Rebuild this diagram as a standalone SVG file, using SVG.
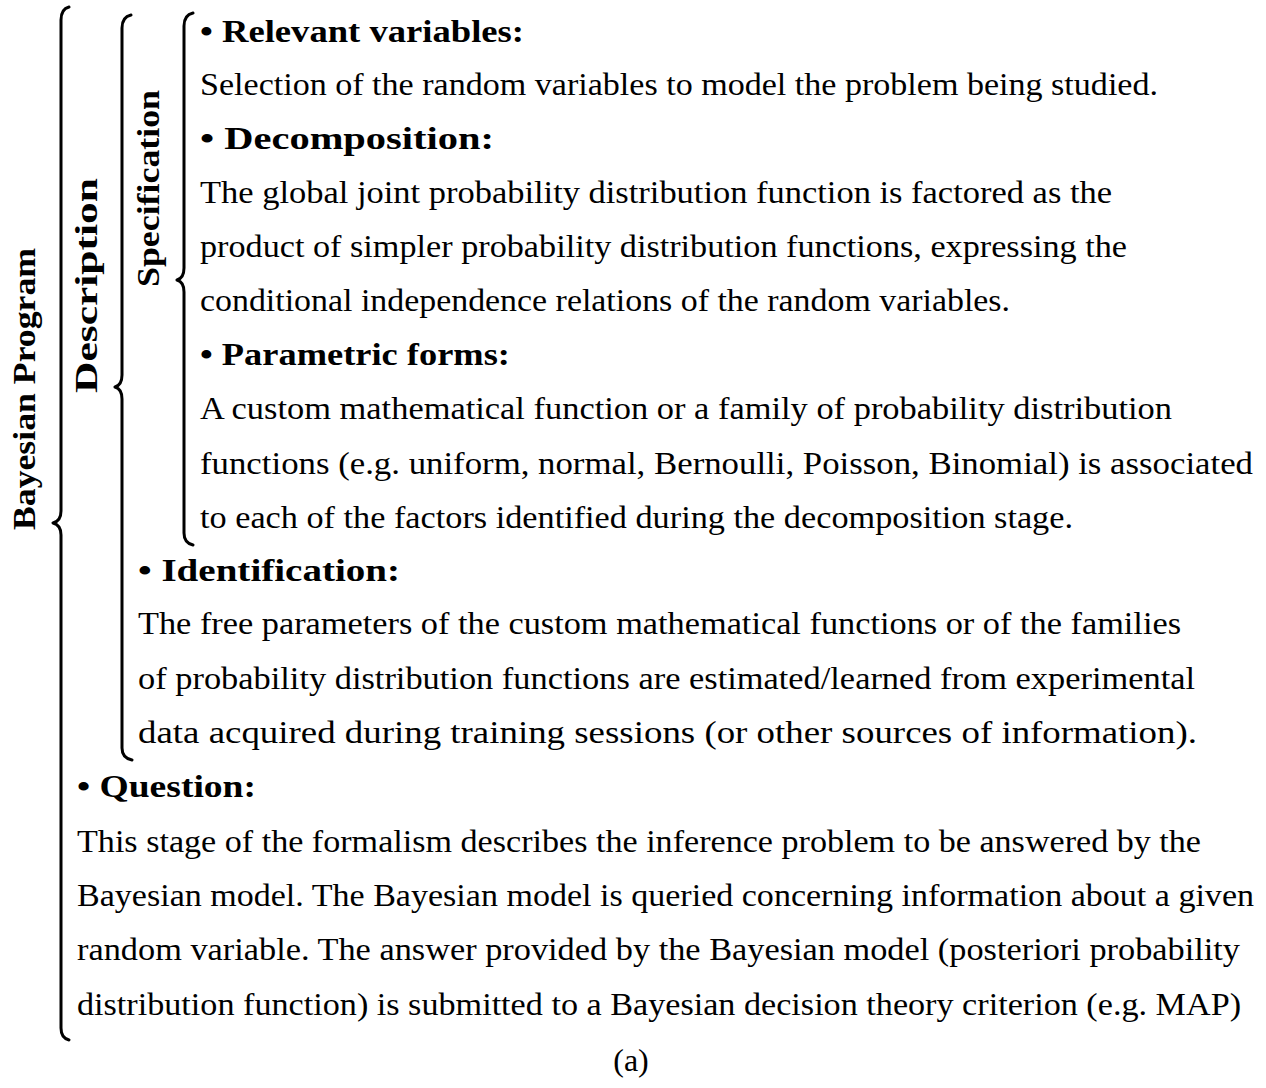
<svg xmlns="http://www.w3.org/2000/svg" width="1266" height="1088" viewBox="0 0 1266 1088">
<style>
text{font-family:"Liberation Serif","Times New Roman",serif;font-size:32px;fill:#000}
.b{font-weight:bold}
.brace{fill:none;stroke:#000;stroke-width:3;stroke-linecap:round;stroke-linejoin:round}
</style>
<rect width="1266" height="1088" fill="#fff"/>
<g id="braces">
<path class="brace" d="M69,7 Q61,9 61,20 L61,511 Q61,521 53,523 Q61,525 61,535 L61,1028 Q61,1038 69,1040"/>
<path class="brace" d="M131,15 Q122,17 122,28 L122,375 Q122,385 115,387 Q122,389 122,399 L122,748 Q122,758 132,760"/>
<path class="brace" d="M193,13 Q184,15 184,26 L184,268 Q184,278 177,280 Q184,282 184,292 L184,533 Q184,543 193,545"/>
</g>
<g id="labels">
<text class="b" transform="translate(35,530) rotate(-90)" textLength="282" lengthAdjust="spacingAndGlyphs">Bayesian Program</text>
<text class="b" transform="translate(97,393) rotate(-90)" textLength="215" lengthAdjust="spacingAndGlyphs">Description</text>
<text class="b" transform="translate(159,287) rotate(-90)" textLength="197" lengthAdjust="spacingAndGlyphs">Specification</text>
</g>
<g id="specification">
<text class="b" x="200" y="42" textLength="324" lengthAdjust="spacingAndGlyphs">• Relevant variables:</text>
<text x="200" y="95" textLength="958" lengthAdjust="spacingAndGlyphs">Selection of the random variables to model the problem being studied.</text>
<text class="b" x="200" y="149" textLength="294" lengthAdjust="spacingAndGlyphs">• Decomposition:</text>
<text x="200" y="203" textLength="912" lengthAdjust="spacingAndGlyphs">The global joint probability distribution function is factored as the</text>
<text x="200" y="257" textLength="927" lengthAdjust="spacingAndGlyphs">product of simpler probability distribution functions, expressing the</text>
<text x="200" y="311" textLength="810" lengthAdjust="spacingAndGlyphs">conditional independence relations of the random variables.</text>
<text class="b" x="200" y="365" textLength="310" lengthAdjust="spacingAndGlyphs">• Parametric forms:</text>
<text x="200" y="419" textLength="972" lengthAdjust="spacingAndGlyphs">A custom mathematical function or a family of probability distribution</text>
<text x="200" y="474" textLength="1053" lengthAdjust="spacingAndGlyphs">functions (e.g. uniform, normal, Bernoulli, Poisson, Binomial) is associated</text>
<text x="200" y="528" textLength="873" lengthAdjust="spacingAndGlyphs">to each of the factors identified during the decomposition stage.</text>
</g>
<g id="identification">
<text class="b" x="138" y="581" textLength="262" lengthAdjust="spacingAndGlyphs">• Identification:</text>
<text x="138" y="634" textLength="1043" lengthAdjust="spacingAndGlyphs">The free parameters of the custom mathematical functions or of the families</text>
<text x="138" y="689" textLength="1057" lengthAdjust="spacingAndGlyphs">of probability distribution functions are estimated/learned from experimental</text>
<text x="138" y="743" textLength="1059" lengthAdjust="spacingAndGlyphs">data acquired during training sessions (or other sources of information).</text>
</g>
<g id="question">
<text class="b" x="77" y="797" textLength="179" lengthAdjust="spacingAndGlyphs">• Question:</text>
<text x="77" y="852" textLength="1124" lengthAdjust="spacingAndGlyphs">This stage of the formalism describes the inference problem to be answered by the</text>
<text x="77" y="906" textLength="1177" lengthAdjust="spacingAndGlyphs">Bayesian model. The Bayesian model is queried concerning information about a given</text>
<text x="77" y="960" textLength="1163" lengthAdjust="spacingAndGlyphs">random variable. The answer provided by the Bayesian model (posteriori probability</text>
<text x="77" y="1015" textLength="1164" lengthAdjust="spacingAndGlyphs">distribution function) is submitted to a Bayesian decision theory criterion (e.g. MAP)</text>
</g>
<g id="caption">
<text x="631" y="1071" text-anchor="middle">(a)</text>
</g>
</svg>
